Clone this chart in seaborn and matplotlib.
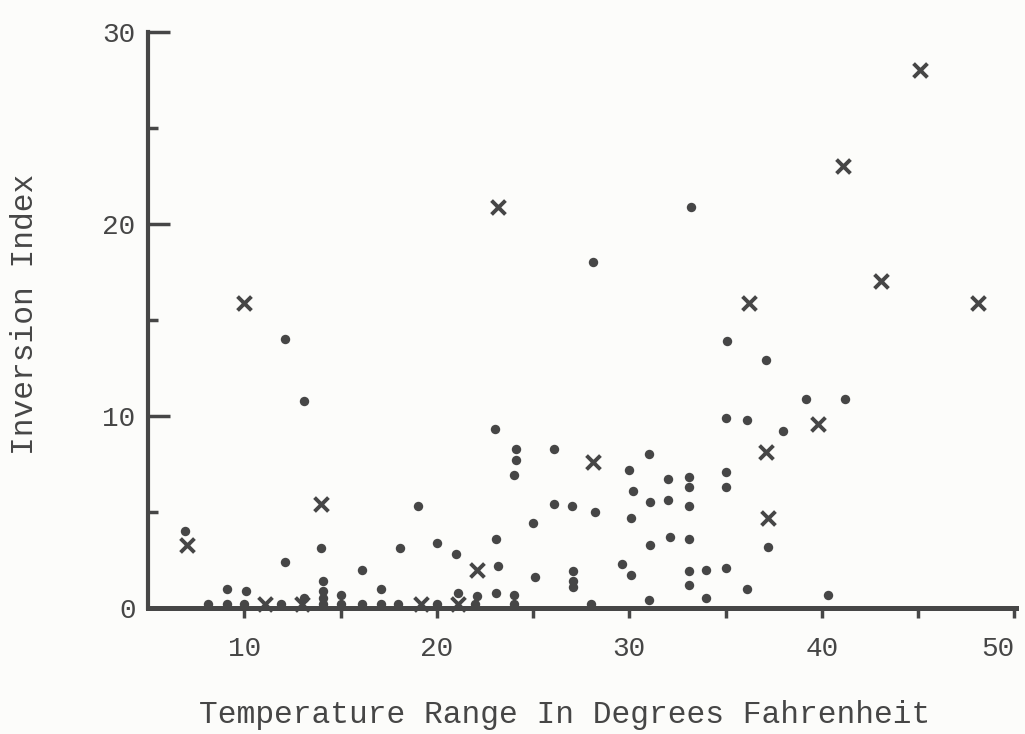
import seaborn as sns
import matplotlib.pyplot as plt
from matplotlib.ticker import FixedLocator

# dots (plain observations)
dot_x = [6.9, 8.1, 9.1, 10.0, 11.9, 14.1, 15.0, 16.1, 17.1, 18.0, 20.0, 22.0,
         9.1, 10.1, 12.1, 12.1, 13.1, 13.1, 14.0, 14.1, 14.1, 14.1, 15.0,
         16.1, 17.1, 18.1, 19.0, 20.0, 21.0, 21.1, 22.1,
         23.0, 23.1, 23.2, 23.1, 24.1, 24.1, 24.0, 24.0, 24.0,
         25.0, 25.1, 26.1, 26.1, 27.0, 27.1, 27.1, 27.1,
         28.0, 28.1, 28.2, 29.6, 30.0, 30.2, 30.1, 30.1,
         31.0, 31.1, 31.1, 31.0, 32.0, 32.0, 32.1,
         33.1, 33.1, 33.1, 33.1, 33.1, 33.1, 33.2, 34.0, 34.0,
         35.0, 35.0, 35.0, 35.0, 35.1, 36.1, 36.1, 37.1, 37.2,
         38.0, 39.2, 40.3, 41.2]
dot_y = [4.0, 0.2, 0.2, 0.2, 0.2, 0.2, 0.2, 0.2, 0.2, 0.2, 0.2, 0.2,
         1.0, 0.9, 2.4, 14.0, 10.8, 0.5, 3.1, 1.4, 0.9, 0.5, 0.7,
         2.0, 1.0, 3.1, 5.3, 3.4, 2.8, 0.8, 0.6,
         9.3, 3.6, 2.2, 0.8, 8.3, 7.7, 6.9, 0.7, 0.2,
         4.4, 1.6, 8.3, 5.4, 5.3, 1.9, 1.4, 1.1,
         0.2, 18.0, 5.0, 2.3, 7.2, 6.1, 4.7, 1.7,
         8.0, 5.5, 3.3, 0.4, 6.7, 5.6, 3.7,
         6.8, 6.3, 5.3, 3.6, 1.9, 1.2, 20.9, 2.0, 0.5,
         9.9, 7.1, 6.3, 2.1, 13.9, 9.8, 1.0, 12.9, 3.2,
         9.2, 10.9, 0.7, 10.9]

# crosses
cross_x = [7.0, 10.0, 11.1, 13.0, 14.0, 19.2, 21.1, 22.1, 23.2, 28.1,
           36.2, 37.1, 37.2, 39.8, 41.1, 43.1, 45.1, 48.1]
cross_y = [3.3, 15.9, 0.2, 0.2, 5.4, 0.2, 0.2, 2.0, 20.9, 7.6,
           15.9, 8.1, 4.7, 9.6, 23.0, 17.0, 28.0, 15.9]

x_major = [10, 20, 30, 40, 50]
x_minor = [15, 25, 35, 45]
y_major = [0, 10, 20, 30]
y_minor = [5, 15, 25]

sns.set_theme(style='white')
plt.rcParams['font.family'] = ['Liberation Mono', 'DejaVu Sans Mono']

ink = '#464646'
paper = '#fcfcfa'

fig = plt.figure(figsize=(10.25, 7.34), dpi=100, facecolor=paper)
ax = fig.add_axes([0.1444, 0.1717, 0.847, 0.785])
ax.set_facecolor(paper)

sns.scatterplot(x=dot_x, y=dot_y, ax=ax, color=ink, s=46, marker='o',
                linewidth=0, clip_on=False, zorder=3)
sns.scatterplot(x=cross_x, y=cross_y, ax=ax, color=ink, s=100, marker='x',
                linewidth=2.8, clip_on=False, zorder=3)

ax.set_xlim(5, 50.1)
ax.set_ylim(0, 30)

for side in ['top', 'right']:
    ax.spines[side].set_visible(False)
ax.spines['left'].set_linewidth(3)
ax.spines['bottom'].set_linewidth(3.6)
ax.spines['left'].set_color(ink)
ax.spines['bottom'].set_color(ink)

ax.xaxis.set_major_locator(FixedLocator(x_major))
ax.xaxis.set_minor_locator(FixedLocator(x_minor))
ax.yaxis.set_major_locator(FixedLocator(y_major))
ax.yaxis.set_minor_locator(FixedLocator(y_minor))

ax.tick_params(axis='x', which='both', direction='out', length=7, width=2.5,
               color=ink, labelcolor=ink, labelsize=20, pad=13, bottom=True)
ax.tick_params(axis='y', which='major', direction='in', length=16, width=2.5,
               color=ink, labelcolor=ink, labelsize=20, pad=9, left=True)
ax.tick_params(axis='y', which='minor', direction='in', length=7, width=2.5,
               color=ink, left=True)

# the last x label sits just left of the axis end, as in the original
ax.set_xticks(x_major)
ax.set_xticklabels([str(v) for v in x_major])
ax.get_xticklabels()[-1].set_horizontalalignment('right')

ax.set_xlabel('Temperature Range In Degrees Fahrenheit', fontsize=22.5,
              color=ink, va='center')
ax.xaxis.set_label_coords(0.48, -0.186)
ax.set_ylabel('Inversion Index', fontsize=22.5, color=ink, va='center')
ax.yaxis.set_label_coords(-0.142, 0.509)

fig.savefig('out.png', dpi=100, facecolor=paper)
